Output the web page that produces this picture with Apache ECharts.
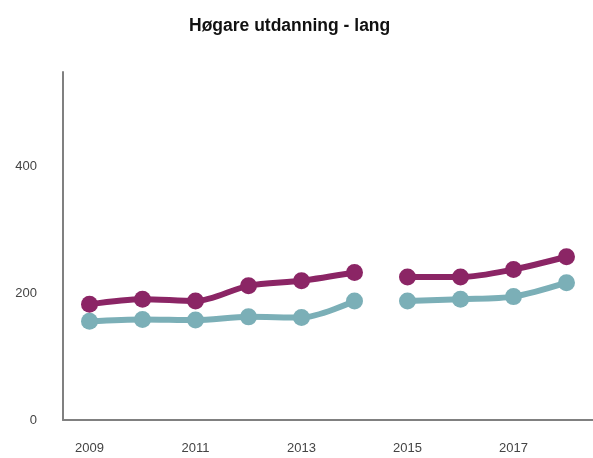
<!DOCTYPE html>
<html>
<head>
<meta charset="utf-8">
<script src="https://cdn.jsdelivr.net/npm/echarts@6/dist/echarts.min.js"></script>
<style>
  html, body { margin: 0; padding: 0; background: #fff; }
  #chart { width: 593px; height: 458px; }
</style>
</head>
<body>
<div id="chart"></div>
<script>
// år og verdiar lest av figuren
const years = ['2009', '2010', '2011', '2012', '2013', '2014', '2015', '2016', '2017', '2018']
const purpleA = [183, 191, 188, 212, 220, 233, '-', '-', '-', '-']
const purpleB = ['-', '-', '-', '-', '-', '-', 226, 226, 238, 258]
const tealA = [156, 159, 158, 163, 162, 188, '-', '-', '-', '-']
const tealB = ['-', '-', '-', '-', '-', '-', 188, 191, 195, 217]
const yTicks = [0, 200, 400]

const purple = '#8B2565'
const teal = '#7BAFB7'

const chart = echarts.init(document.getElementById('chart'))

const mkLine = (data, color) => ({
  type: 'line',
  data: data,
  smooth: 0.3,
  symbol: 'circle',
  symbolSize: 17,
  lineStyle: { color: color, width: 6 },
  itemStyle: { color: color },
  z: color === purple ? 3 : 2
})

chart.setOption({
  animation: false,
  title: {
    text: 'Høgare utdanning - lang',
    left: 184,
    top: 12,
    textStyle: { fontFamily: 'Liberation Sans', fontSize: 17.5, fontWeight: 'bold', color: '#111' }
  },
  grid: { left: 63, right: 0, top: 72, bottom: 38 },
  xAxis: {
    type: 'category',
    data: years,
    boundaryGap: true,
    axisLine: { lineStyle: { color: '#808080', width: 2 } },
    axisTick: { show: false },
    axisLabel: {
      interval: 1,
      margin: 22,
      fontFamily: 'Liberation Sans',
      fontSize: 13,
      color: '#444'
    }
  },
  yAxis: {
    type: 'value',
    min: 0,
    max: 550,
    interval: 200,
    axisLine: { show: true, lineStyle: { color: '#808080', width: 2 } },
    axisTick: { show: false },
    splitLine: { show: false },
    axisLabel: {
      margin: 26,
      fontFamily: 'Liberation Sans',
      fontSize: 13,
      color: '#444',
      formatter: v => (yTicks.indexOf(v) >= 0 ? String(v) : '')
    }
  },
  series: [
    mkLine(tealA, teal),
    mkLine(tealB, teal),
    mkLine(purpleA, purple),
    mkLine(purpleB, purple)
  ]
})
</script>
</body>
</html>
